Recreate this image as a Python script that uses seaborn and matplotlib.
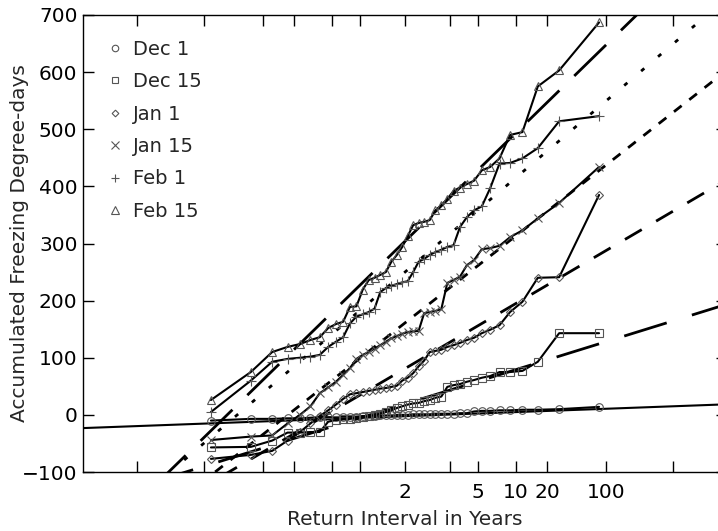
import matplotlib
matplotlib.use("Agg")
from statistics import NormalDist
import numpy as np
import pandas as pd
import matplotlib.pyplot as plt
from matplotlib.lines import Line2D
import seaborn as sns

sns.set_style("ticks")
plt.rcParams["font.family"] = ["DejaVu Sans"]
plt.rcParams["lines.scale_dashes"] = False

# start dates of accumulation, one series per date
labels = ["Dec 1", "Dec 15", "Jan 1", "Jan 15", "Feb 1", "Feb 15"]
markers = ["o", "s", "D", "x", "+", "^"]
msizes = [5.5, 5.5, 4, 6, 6.5, 6]

# plotting positions (non-exceedance probability) of the 40 ranked years
plot_prob = [0.0125, 0.0375, 0.0625, 0.0875, 0.1125, 0.1375, 0.1625, 0.1875,
             0.2125, 0.2375, 0.2625, 0.2875, 0.3125, 0.3375, 0.3625, 0.3875,
             0.4125, 0.4375, 0.4625, 0.4875, 0.5125, 0.5375, 0.5625, 0.5875,
             0.6125, 0.6375, 0.6625, 0.6875, 0.7125, 0.7375, 0.7625, 0.7875,
             0.8125, 0.8375, 0.8625, 0.8875, 0.9125, 0.9375, 0.9625, 0.9875]

# ranked accumulated freezing degree-days
dec1 = [-10, -7, -7, -6, -6, -5, -4, -4, -4, -3, -3, -3, -2, -2, -2, -1,
        -1, -1, 0, 0, 0, 1, 1, 1, 1, 2, 2, 2, 2, 3, 3, 6, 7, 7, 8, 8, 9, 9, 10, 14]
dec15 = [-57, -56, -45, -31, -31, -30, -30, -12, -9, -8, -7, -5, -4, -2, 0, 2,
         5, 8, 12, 15, 18, 20, 21, 24, 26, 30, 32, 49, 52, 54, 58, 61, 65, 68,
         75, 75, 77, 93, 143, 143]
jan1 = [-77, -70, -63, -45, -30, -15, -2, 8, 18, 28, 36, 38, 40, 42, 44, 46,
        47, 49, 51, 60, 65, 73, 85, 95, 110, 112, 114, 119, 122, 126, 131, 135,
        143, 149, 157, 180, 198, 240, 241, 385]
jan15 = [-44, -38, -36, -15, 0, 15, 38, 48, 58, 70, 82, 98, 105, 110, 116, 122,
         128, 134, 138, 142, 145, 146, 147, 178, 180, 182, 185, 231, 236, 242,
         262, 271, 290, 292, 296, 311, 323, 344, 371, 434]
feb1 = [5, 60, 93, 98, 100, 102, 105, 119, 128, 136, 160, 172, 176, 180, 186,
        215, 222, 226, 229, 232, 234, 250, 268, 273, 280, 285, 289, 294, 297,
        329, 346, 358, 365, 397, 440, 441, 449, 467, 514, 523]
feb15 = [26, 75, 110, 119, 124, 131, 136, 152, 159, 163, 189, 190, 219, 236,
         240, 245, 250, 268, 280, 294, 313, 332, 336, 338, 341, 358, 367, 378,
         392, 398, 404, 410, 428, 434, 449, 490, 495, 575, 603, 687]

# fitted normal distributions (mean, standard deviation)
fit_mean = [-2.3, 19, 81, 161, 250, 304]
fit_sd = [5.6, 47, 89, 119, 129, 148]
fit_dashes = [None, (32, 19), (14, 12), (7, 7), (3, 13), (32, 15)]

tick_prob = [0.001, 0.01, 0.05, 0.1, 0.2, 0.3, 0.5, 0.7, 0.8, 0.9, 0.95, 0.99, 0.999]
tick_text = ["", "", "", "", "", "", "2", "", "5", "10", "20", "100", ""]

nd = NormalDist()


def to_z(p):
    p = np.clip(np.asarray(p, dtype=float), 1e-12, 1 - 1e-12)
    return np.vectorize(nd.inv_cdf, otypes=[float])(p)


def from_z(z):
    return np.vectorize(nd.cdf, otypes=[float])(np.asarray(z, dtype=float))


series = [dec1, dec15, jan1, jan15, feb1, feb15]
df = pd.DataFrame({
    "prob": plot_prob * len(series),
    "fdd": sum(series, []),
    "date": np.repeat(labels, len(plot_prob)),
})

fig = plt.figure(figsize=(7.18, 5.31), dpi=100)
ax = fig.add_axes([83 / 718, 59 / 531, 644 / 718, 457 / 531])
ax.set_xscale("function", functions=(to_z, from_z))

# fitted lines
ends = [0.0001, 0.9999]
for m, s, d in zip(fit_mean, fit_sd, fit_dashes):
    vals = [m + s * nd.inv_cdf(p) for p in ends]
    if d is None:
        ax.plot(ends, vals, color="black", lw=1.5)
    else:
        ax.plot(ends, vals, color="black", lw=2, dashes=d)

# observed ranked values
for lab, mk, ms in zip(labels, markers, msizes):
    sub = df[df["date"] == lab]
    sns.lineplot(data=sub, x="prob", y="fdd", ax=ax, color="black", lw=1.5,
                 marker=mk, ms=ms, mec="#555555", mfc="none", mew=0.8,
                 sort=False, errorbar=None, legend=False)

ax.set_xlim(0.0001, 0.9999)
ax.set_ylim(-100, 700)
ax.set_xticks(tick_prob, tick_text)
ax.xaxis.set_minor_locator(matplotlib.ticker.NullLocator())
ax.set_yticks(range(-100, 701, 100))
ax.tick_params(axis="both", direction="in", length=8, width=1, labelsize=14.5,
               top=True, right=True, color="black", labelcolor="black")
ax.tick_params(axis="x", pad=8)
ax.tick_params(axis="y", pad=4)
for sp in ax.spines.values():
    sp.set_color("black")
    sp.set_linewidth(1)

ax.set_xlabel("Return Interval in Years", fontsize=14.5)
ax.set_ylabel("Accumulated Freezing Degree-days", fontsize=14.5)
ax.xaxis.set_label_coords(0.5, -0.083)
ax.yaxis.set_label_coords(-0.084, 0.5)

handles = [Line2D([], [], ls="none", marker=mk, ms=ms * 0.85, mec="#555555",
                  mfc="none", mew=0.8) for mk, ms in zip(markers, msizes)]
ax.legend(handles, labels, loc="upper left", bbox_to_anchor=(0.0225, 0.963),
          frameon=False, fontsize=14, handlelength=1, handletextpad=0.43,
          labelspacing=0.69, borderaxespad=0)

fig.savefig("out.png", dpi=100)
